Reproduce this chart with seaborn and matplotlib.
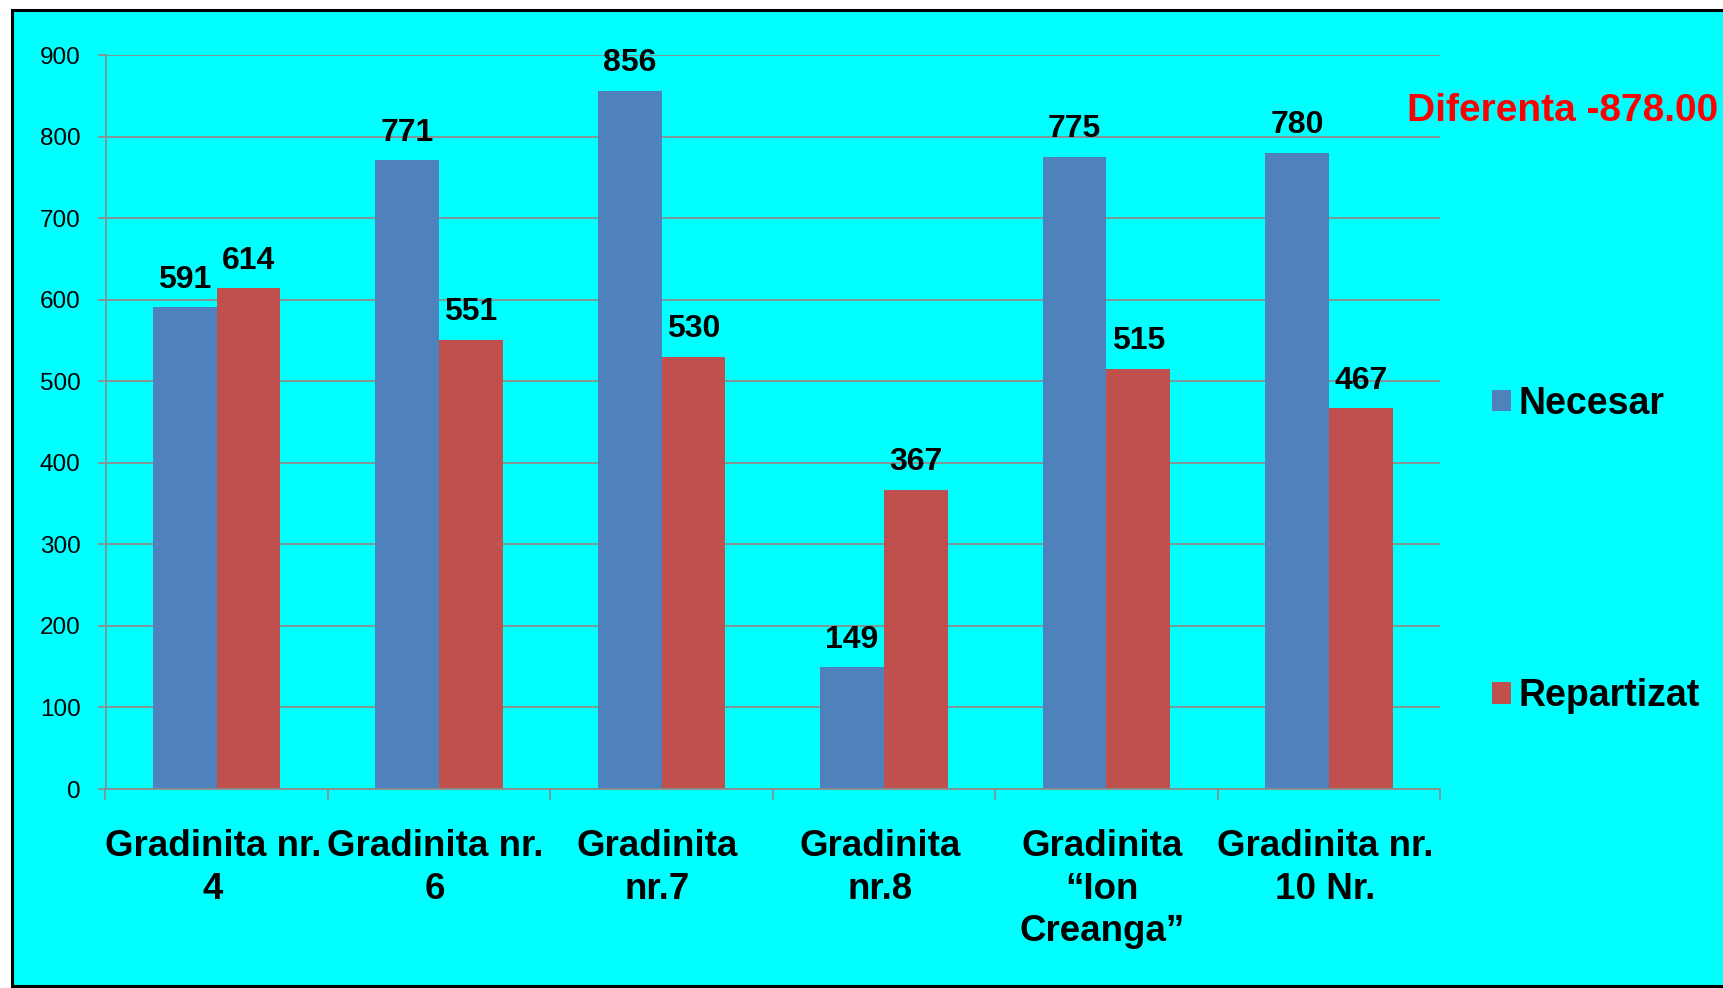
import matplotlib
matplotlib.use("Agg")
import matplotlib.pyplot as plt
from matplotlib.patches import Rectangle, Patch
from matplotlib.transforms import ScaledTranslation
import seaborn as sns
import pandas as pd

categories = ["Gradinita nr.\n4", "Gradinita nr.\n6", "Gradinita\nnr.7", "Gradinita\nnr.8",
              "Gradinita\n\u201cIon\nCreanga\u201d", "Gradinita nr.\n10 Nr."]
necesar = [591, 771, 856, 149, 775, 780]
repartizat = [614, 551, 530, 367, 515, 467]
series_names = ["Necesar", "Repartizat"]
colors = ["#4F81BD", "#C0504D"]
y_ticks = list(range(0, 901, 100))
note = "Diferenta -878.00"

df = pd.DataFrame({
    "cat": categories * 2,
    "value": necesar + repartizat,
    "series": [series_names[0]] * len(categories) + [series_names[1]] * len(categories),
})

sns.set_theme(style="white")
plt.rcParams["font.family"] = ["Liberation Sans", "DejaVu Sans"]
plt.rcParams["text.color"] = "black"

W, H = 1723, 988
fig = plt.figure(figsize=(W / 100, H / 100), dpi=100, facecolor="white")
# background panel with border
bg = Rectangle((12 / W, 2 / H), 1.2, 1 - 12 / H, transform=fig.transFigure,
               facecolor="#00FFFF", edgecolor="black", linewidth=2.2, zorder=-10)
fig.add_artist(bg)

ax = fig.add_axes([105.5 / W, 1 - 789 / H, (1440 - 105.5) / W, (789 - 55) / H])
ax.set_facecolor("none")
ax.set_zorder(5)

sns.barplot(data=df, x="cat", y="value", hue="series", palette=colors, saturation=1,
            width=0.573, ax=ax, errorbar=None, linewidth=0)

for cont in ax.containers:
    ax.bar_label(cont, fmt="%d", padding=9, fontsize=23, fontweight="bold", color="black")

ax.set_ylim(0, 900)
ax.set_xlim(-0.5, len(categories) - 0.5)
ax.set_yticks(y_ticks)
ax.set_yticklabels([str(v) for v in y_ticks], fontsize=17.5, color="black")
ax.set_xticks(range(len(categories)))
ax.set_xticklabels(categories, fontsize=26.5, fontweight="bold", color="black", linespacing=1.27)
ax.set_xticks([i - 0.5 for i in range(len(categories) + 1)], minor=True)
ax.tick_params(axis="x", which="major", length=0, pad=29)
ax.tick_params(axis="x", which="minor", length=8, width=1.3, color="#8c8c8c", direction="out", bottom=True)
ax.tick_params(axis="y", length=6, width=1.3, color="#8c8c8c", direction="out", pad=12, left=True)
ax.set_xlabel("")
ax.set_ylabel("")
shift = ScaledTranslation(-4 / 100, 0, fig.dpi_scale_trans)
for lbl in ax.get_xticklabels():
    lbl.set_transform(lbl.get_transform() + shift)

ax.yaxis.grid(True, color="#8c8c8c", linewidth=1.3)
ax.set_axisbelow(True)
for s in ["top", "right"]:
    ax.spines[s].set_visible(False)
for s in ["left", "bottom"]:
    ax.spines[s].set_color("#8c8c8c")
    ax.spines[s].set_linewidth(1.3)

if ax.get_legend() is not None:
    ax.get_legend().remove()
handles = [Patch(facecolor=c, edgecolor="none") for c in colors]
leg = fig.legend(handles, series_names, loc="center left", bbox_to_anchor=(1492 / W, 1 - 550 / H),
                 bbox_transform=fig.transFigure, frameon=False, borderpad=0, borderaxespad=0,
                 handlelength=0.5, handleheight=0.5, handletextpad=0.2, labelspacing=6.85,
                 prop={"size": 27, "weight": "bold"}, labelcolor="black")

fig.text(1407 / W, 1 - 111 / H, note, color="#FF0000", fontsize=28, fontweight="bold",
         ha="left", va="center")

fig.savefig("out.png", dpi=100, facecolor=fig.get_facecolor())
